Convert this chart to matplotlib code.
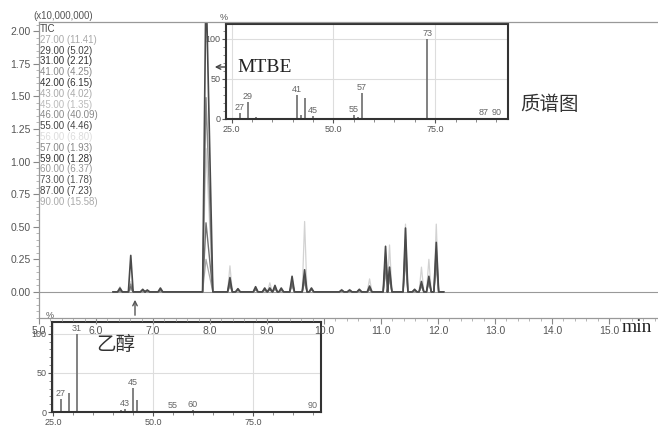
import matplotlib
matplotlib.use("Agg")
import matplotlib.pyplot as plt
from matplotlib.ticker import MultipleLocator, FormatStrFormatter

W, H = 658, 426

# chromatogram peaks (retention time, min) and heights (x10,000,000)
peak_times = [6.42, 6.61, 6.82, 6.90, 7.13, 7.93, 8.35, 8.49, 8.80, 8.96, 9.05, 9.14, 9.25, 9.44,
              9.66, 9.78, 10.31, 10.45, 10.62, 10.80, 11.08, 11.15, 11.43, 11.59, 11.71, 11.84, 11.97]
tic_dark = [0.03, 0.28, 0.02, 0.015, 0.03, 2.40, 0.11, 0.025, 0.04, 0.03, 0.03, 0.05, 0.03, 0.12,
            0.17, 0.03, 0.015, 0.015, 0.02, 0.045, 0.35, 0.19, 0.49, 0.02, 0.08, 0.12, 0.38]
ion_light = [0.04, 0.08, 0.01, 0.01, 0.02, 1.10, 0.20, 0.02, 0.03, 0.03, 0.07, 0.04, 0.02, 0.10,
             0.54, 0.03, 0.02, 0.02, 0.02, 0.10, 0.30, 0.36, 0.52, 0.02, 0.19, 0.25, 0.52]
ion_mid = [0.02, 0.06, 0.015, 0.01, 0.02, 1.49, 0.08, 0.02, 0.03, 0.02, 0.03, 0.04, 0.02, 0.08,
           0.13, 0.02, 0.01, 0.01, 0.015, 0.03, 0.27, 0.16, 0.40, 0.015, 0.06, 0.10, 0.33]
ion_mid2 = [0.01, 0.04, 0.01, 0.01, 0.01, 0.53, 0.06, 0.015, 0.02, 0.02, 0.02, 0.03, 0.015, 0.06,
            0.10, 0.02, 0.01, 0.01, 0.01, 0.02, 0.20, 0.12, 0.30, 0.01, 0.05, 0.08, 0.25]
ion_mid3 = [0.01, 0.02, 0.01, 0.005, 0.01, 0.25, 0.04, 0.01, 0.015, 0.01, 0.015, 0.02, 0.01, 0.04,
            0.07, 0.015, 0.005, 0.005, 0.01, 0.015, 0.14, 0.09, 0.22, 0.01, 0.04, 0.06, 0.18]

legend_labels = ["TIC", "27.00 (11.41)", "29.00 (5.02)", "31.00 (2.21)", "41.00 (4.25)",
                 "42.00 (6.15)", "43.00 (4.02)", "45.00 (1.35)", "46.00 (40.09)", "55.00 (4.46)",
                 "56.00 (6.80)", "57.00 (1.93)", "59.00 (1.28)", "60.00 (6.37)", "73.00 (1.78)",
                 "87.00 (7.23)", "90.00 (15.58)"]
legend_colors = ["#444444", "#aaaaaa", "#444444", "#333333", "#888888", "#333333", "#aaaaaa",
                 "#bbbbbb", "#888888", "#444444", "#dddddd", "#888888", "#333333", "#999999",
                 "#555555", "#444444", "#aaaaaa"]

# MTBE mass spectrum
mtbe_mz = [27, 29, 31, 41, 42, 43, 45, 55, 56, 57, 73, 87, 90]
mtbe_int = [7, 21, 2, 30, 5, 26, 4, 5, 3, 32, 100, 1, 1]
mtbe_labels = {27: "27", 29: "29", 41: "41", 45: "45", 55: "55", 57: "57", 73: "73", 87: "87", 90: "90"}

# ethanol mass spectrum
eth_mz = [27, 29, 31, 42, 43, 45, 46, 55, 60, 90]
eth_int = [16, 24, 100, 2, 4, 31, 15, 1, 2, 1]
eth_labels = {27: "27", 31: "31", 43: "43", 45: "45", 55: "55", 60: "60", 90: "90"}

sans = "Liberation Sans"
serif = "Liberation Serif"
cjk = ["Noto Sans CJK SC", "DejaVu Sans"]


def px(x, y):
    return (x / W, 1 - y / H)


def trace(heights):
    xs, ys = [6.3], [0.0]
    for t, h in zip(peak_times, heights):
        wl, wr = (0.06, 0.12) if t == 7.93 else (0.042, 0.042)
        xs += [t - wl, t, t + wr]
        ys += [0.0, h, 0.0]
    xs.append(12.1)
    ys.append(0.0)
    return xs, ys


fig = plt.figure(figsize=(W / 100, H / 100), dpi=100)

# main chromatogram
ax = fig.add_axes([39 / W, 1 - 318 / H, (W - 39) / W, 296 / H], zorder=5)
ax.patch.set_alpha(0)
ax.axhline(0, color="#999999", lw=0.8)
for hs, col, lw in [(ion_light, "#d2d2d2", 0.9), (ion_mid3, "#a8a8a8", 0.9),
                    (ion_mid, "#8a8a8a", 1.0), (ion_mid2, "#707070", 1.0),
                    (tic_dark, "#4a4a4a", 1.2)]:
    xs, ys = trace(hs)
    ax.plot(xs, ys, color=col, lw=lw)

ax.set_xlim(5.0, 15.86)
ax.set_ylim(-0.2, 2.07)
ax.xaxis.set_major_locator(MultipleLocator(1.0))
ax.xaxis.set_minor_locator(MultipleLocator(0.2))
ax.yaxis.set_major_locator(MultipleLocator(0.25))
ax.yaxis.set_minor_locator(MultipleLocator(0.05))
ax.xaxis.set_major_formatter(FormatStrFormatter("%.1f"))
ax.yaxis.set_major_formatter(FormatStrFormatter("%.2f"))
ax.set_yticks([0.25 * i for i in range(9)])
ax.spines["right"].set_visible(False)
for s in ["left", "top", "bottom"]:
    ax.spines[s].set_color("#999999")
    ax.spines[s].set_linewidth(0.9)
ax.tick_params(which="major", direction="out", length=4, color="#888888",
               labelsize=7.5, labelcolor="#555555", pad=2)
ax.tick_params(which="minor", direction="out", length=2, color="#aaaaaa")
for lab in ax.get_xticklabels() + ax.get_yticklabels():
    lab.set_fontfamily(sans)

fig.text(*px(33, 16), "(x10,000,000)", fontsize=7, color="#555555", family=sans, va="center")
for i, (lab, col) in enumerate(zip(legend_labels, legend_colors)):
    fig.text(*px(40, 29 + i * 10.8), lab, fontsize=7, color=col, family=sans, va="center")

fig.text(*px(622, 328), "min", fontsize=14, family=serif, color="#222222", va="center")

# arrows and annotations
fig.add_artist(matplotlib.patches.FancyArrowPatch(px(236, 67), px(212, 67), transform=fig.transFigure,
                                                  arrowstyle="->", mutation_scale=8, color="#444444", lw=1))
fig.text(*px(237, 67), "MTBE", fontsize=14, family=serif, color="#222222", va="center")
fig.add_artist(matplotlib.patches.FancyArrowPatch(px(135, 318), px(135, 297), transform=fig.transFigure,
                                                  arrowstyle="->", mutation_scale=8, color="#555555", lw=1))
fig.text(*px(520, 105), "质谱图", fontsize=14, family=cjk, color="#333333", va="center")


def spectrum(rect, xlim, ylim, mz, inten, labels, pct_xy):
    a = fig.add_axes(rect, zorder=2)
    a.set_facecolor("white")
    a.vlines(mz, 0, inten, color="#777777", lw=1.3)
    for m, v in zip(mz, inten):
        if m in labels:
            a.text(m, v + 1.5, labels[m], fontsize=6.5, color="#666666", family=sans,
                   ha="center", va="bottom")
    a.set_xlim(*xlim)
    a.set_ylim(*ylim)
    a.xaxis.set_major_locator(MultipleLocator(25))
    a.xaxis.set_minor_locator(MultipleLocator(5))
    a.yaxis.set_major_locator(MultipleLocator(50))
    a.yaxis.set_minor_locator(MultipleLocator(10))
    a.xaxis.set_major_formatter(FormatStrFormatter("%.1f"))
    a.grid(True, which="major", color="#dddddd", lw=0.8)
    a.set_axisbelow(True)
    for s in a.spines.values():
        s.set_color("#333333")
        s.set_linewidth(1.5)
    a.tick_params(which="major", direction="out", length=3, color="#555555",
                  labelsize=6.5, labelcolor="#555555", pad=1)
    a.tick_params(which="minor", direction="out", length=2, color="#777777")
    for lab in a.get_xticklabels() + a.get_yticklabels():
        lab.set_fontfamily(sans)
    fig.text(*px(*pct_xy), "%", fontsize=6.5, color="#555555", family=sans, ha="center", va="center")
    return a


spectrum([226 / W, 1 - 119 / H, 282 / W, 95 / H], (23.6, 92.9), (0, 118.75),
         mtbe_mz, mtbe_int, mtbe_labels, (224, 17))
spectrum([52 / W, 1 - 412 / H, 269 / W, 90 / H], (24.75, 92), (0, 115),
         eth_mz, eth_int, eth_labels, (50, 316))

fig.text(*px(96, 345), "乙醇", fontsize=14, family=cjk, color="#333333", va="center")

fig.savefig("out.png", dpi=100)
